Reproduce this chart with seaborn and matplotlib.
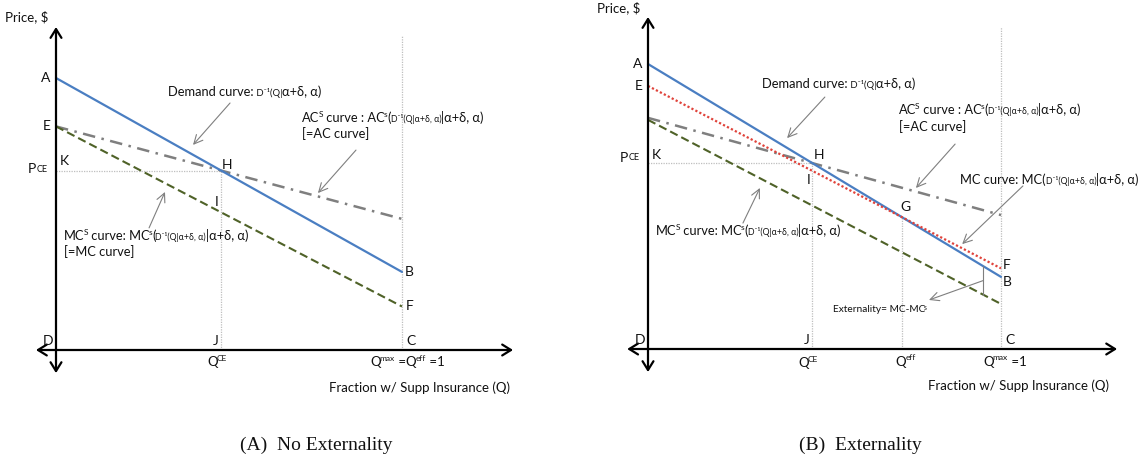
import matplotlib
matplotlib.use("Agg")
import matplotlib.pyplot as plt
import seaborn as sns

# Each schedule is linear in Q, so it is stored by its values at Q = 0 and Q = 1
q_grid = [0.0, 1.0]

# Panel A: no externality
demand_a = [100.0, 28.7]
ac_a = [82.2, 48.2]
mcs_a = [82.2, 16.0]

# Panel B: externality
demand_b = [100.0, 25.3]
mc_b = [92.3, 28.3]
ac_b = [81.1, 47.0]
mcs_b = [80.4, 15.8]
q_bracket = 0.95

panel_titles = ["(A)  No Externality", "(B)  Externality"]
x_title = "Fraction w/ Supp Insurance (Q)"
y_title = "Price, $"

BLUE = "#4A7EC2"
RED = "#E0433B"
GREY = "#7F7F7F"
OLIVE = "#4F6228"
GUIDE = "#BFBFBF"
INK = "#111111"
SANS = ["Lato", "DejaVu Sans"]
SERIF = ["Liberation Serif", "DejaVu Serif"]

sns.set_theme(style="white")
plt.rcParams["font.family"] = SANS


def value_at(y, q):
    return y[0] + (y[1] - y[0]) * q


def crossing(y1, y2):
    d0 = y1[0] - y2[0]
    d1 = y1[1] - y2[1]
    q = d0 / (d0 - d1)
    return q, value_at(y1, q)


def curve(ax, y, color, lw, ls):
    sns.lineplot(x=q_grid, y=y, ax=ax, color=color, linewidth=lw,
                 linestyle=ls, legend=False, zorder=3)


def rich(ax, xy, parts, offset=(0, 0), va="center", color=INK):
    """Write a run of text pieces (text, size, rise) one after another;
    raised pieces are tucked slightly closer to the text before them."""
    t = None
    prev = 0.0
    for s, size, rise in parts:
        if t is None:
            t = ax.annotate(s, xy=xy, xycoords="data",
                            xytext=(offset[0], offset[1] + rise),
                            textcoords="offset points", fontsize=size,
                            va=va, ha="left", family=SANS, color=color,
                            annotation_clip=False, zorder=6)
        else:
            dx = -0.8 if rise > 2 else 0.0
            t = ax.annotate(s, xy=(1, 0), xycoords=t,
                            xytext=(dx, rise - prev), textcoords="offset points",
                            fontsize=size, va="bottom", ha="left",
                            family=SANS, color=color,
                            annotation_clip=False, zorder=6)
        prev = rise
    return t


def label(ax, xy, s, offset, ha="left", va="center", size=10):
    ax.annotate(s, xy=xy, xytext=offset, textcoords="offset points",
                ha=ha, va=va, fontsize=size, color=INK, family=SANS,
                annotation_clip=False, zorder=6)


def pointer(ax, tail, head):
    ax.annotate("", xy=head, xytext=tail,
                arrowprops=dict(arrowstyle="->,head_length=0.45,head_width=0.22",
                                color=GREY, lw=0.8, shrinkA=0, shrinkB=0,
                                mutation_scale=14),
                annotation_clip=False, zorder=4)


def frame(ax, x_span, y_span):
    style = dict(arrowstyle="<->,head_length=0.45,head_width=0.28",
                 color="black", lw=1.6, shrinkA=0, shrinkB=0, mutation_scale=14)
    ax.annotate("", xy=(x_span[0], 0), xytext=(x_span[1], 0),
                arrowprops=style, annotation_clip=False, zorder=5)
    ax.annotate("", xy=(0, y_span[0]), xytext=(0, y_span[1]),
                arrowprops=style, annotation_clip=False, zorder=5)


def guide(ax, xs, ys):
    ax.plot(xs, ys, color=GUIDE, lw=0.9, linestyle=(0, (1, 1)), zorder=1)


SUB = 6.3
SUP = 6.0
BASE = 9.3
RISE = 4.4

fig = plt.figure(figsize=(11.43, 4.62), dpi=100)
ax_a = fig.add_axes([0, 0, 571 / 1143, 1])
ax_b = fig.add_axes([572 / 1143, 0, 571 / 1143, 1])
ax_a.set_xlim(-56 / 346, (571 - 56) / 346)
ax_a.set_ylim(-(462 - 350) / 2.72, 350 / 2.72)
ax_b.set_xlim(-(648 - 572) / 353, (1143 - 648) / 353)
ax_b.set_ylim(-(462 - 349) / 2.85, 349 / 2.85)
for ax in (ax_a, ax_b):
    ax.set_axis_off()

# ---------------- Panel A ----------------
ax = ax_a
q_ce, p_ce = crossing(demand_a, ac_a)
guide(ax, [1, 1], [0, 115.4])
guide(ax, [0, q_ce], [p_ce, p_ce])
guide(ax, [q_ce, q_ce], [0, p_ce])
curve(ax, ac_a, GREY, 1.8, (0, (5, 2.6, 1, 2.6)))
curve(ax, mcs_a, OLIVE, 1.5, (0, (4, 2)))
curve(ax, demand_a, BLUE, 1.6, "-")
frame(ax, (-0.058, 1.321), (-8.5, 118.75))

ax.text(-0.147, 122.4, y_title, fontsize=9.5, va="center", ha="left", color=INK)
label(ax, (0, demand_a[0]), "A", (-4, 0), ha="right")
label(ax, (0, ac_a[0]), "E", (-4, 0), ha="right")
label(ax, (0, p_ce), "K", (3, 7))
rich(ax, (0, p_ce), [("P", 10, 0), ("CE", 6.5, 0.8)], offset=(-20, 1))
label(ax, (q_ce, p_ce), "H", (0.5, 4))
label(ax, (q_ce, value_at(mcs_a, q_ce)), "I", (-2, 3), ha="right", va="bottom")
label(ax, (q_ce, 0), "J", (-2, 2), ha="right", va="bottom")
label(ax, (0, 0), "D", (-2, 2), ha="right", va="bottom")
label(ax, (1, 0), "C", (3, 2), va="bottom")
label(ax, (1, demand_a[1]), "B", (2, 0))
label(ax, (1, mcs_a[1]), "F", (3, 0))
rich(ax, (q_ce, 0), [("Q", 9.5, 0), ("CE", SUP, RISE)], offset=(-10, -9))
rich(ax, (1, 0), [("Q", 9.5, 0), ("max", SUP, RISE), (" =Q", 9.5, 0),
                  ("eff", SUP, RISE), (" =1", 9.5, 0)], offset=(-23, -9))
ax.text(0.789, -14.0, x_title, fontsize=9.5, va="center", ha="left", color=INK)

rich(ax, (0.324, 94.9), [("Demand curve:", BASE, 0), (" D⁻¹(Q|", 6.8, 0),
                         ("α+δ, α)", BASE, 0)])
pointer(ax, (0.503, 90.8), (0.396, 75.4))
rich(ax, (0.711, 85.3), [("AC", BASE, 0), ("S", SUP, RISE), (" curve : AC", BASE, 0),
                         ("s", SUP, RISE), ("(", BASE, 0), ("D⁻¹(Q|α+δ, α)", SUB, 0),
                         ("|α+δ, α)", BASE, 0)])
rich(ax, (0.711, 79.6), [("[=AC curve]", BASE, 0)])
pointer(ax, (0.867, 73.5), (0.757, 57.7))
rich(ax, (0.023, 41.9), [("MC", BASE, 0), ("S", SUP, RISE), (" curve: MC", BASE, 0),
                         ("s", SUP, RISE), ("(", BASE, 0), ("D⁻¹(Q|α+δ, α)", SUB, 0),
                         ("|α+δ, α)", BASE, 0)])
rich(ax, (0.023, 36.2), [("[=MC curve]", BASE, 0)])
pointer(ax, (0.269, 44.9), (0.315, 58.1))

ax.text(0.751, -34.9, panel_titles[0], fontsize=14, va="center", ha="center",
        family=SERIF, color=INK)

# ---------------- Panel B ----------------
ax = ax_b
q_ce, p_ce = crossing(demand_b, ac_b)
q_eff, p_eff = crossing(demand_b, mc_b)
guide(ax, [1, 1], [0, 113.0])
guide(ax, [0, q_ce], [p_ce, p_ce])
guide(ax, [q_ce, q_ce], [0, p_ce])
guide(ax, [q_eff, q_eff], [0, p_eff])
curve(ax, ac_b, GREY, 1.8, (0, (5, 2.6, 1, 2.6)))
curve(ax, mcs_b, OLIVE, 1.5, (0, (4, 2)))
curve(ax, demand_b, BLUE, 1.6, "-")
curve(ax, mc_b, RED, 1.6, (0, (1, 1)))
frame(ax, (-0.059, 1.329), (-8.1, 116.5))

# bracket marking the gap between the private and social cost schedules
ext_top = value_at(demand_b, q_bracket)
ext_bot = value_at(mcs_b, q_bracket)
ax.plot([q_bracket, q_bracket], [ext_top, ext_bot], color=GREY, lw=0.8, zorder=4)
pointer(ax, (q_bracket, (ext_top + ext_bot) / 2), (0.796, 17.2))
rich(ax, (0.524, 13.7), [("Externality= MC-MC", 7.3, 0), ("s", 4.8, 2.8)])

ax.text(-0.144, 119.6, y_title, fontsize=9.5, va="center", ha="left", color=INK)
label(ax, (0, demand_b[0]), "A", (-4, 0), ha="right")
label(ax, (0, mc_b[0]), "E", (-4, 0), ha="right")
label(ax, (0, p_ce), "K", (3, 6))
rich(ax, (0, p_ce), [("P", 10, 0), ("CE", 6.5, 0.8)], offset=(-20, 4))
label(ax, (q_ce, p_ce), "H", (1, 6))
label(ax, (q_ce, value_at(mc_b, q_ce)), "I", (-1.5, -2), ha="right", va="top")
label(ax, (q_eff, p_eff), "G", (-1.5, 3), va="bottom")
label(ax, (q_ce, 0), "J", (-2, 2), ha="right", va="bottom")
label(ax, (0, 0), "D", (-2, 2), ha="right", va="bottom")
label(ax, (1, 0), "C", (3, 2), va="bottom")
label(ax, (1, demand_b[1]), "B", (1.5, -4))
label(ax, (1, mc_b[1]), "F", (1.5, 2.5))
rich(ax, (q_ce, 0), [("Q", 9.5, 0), ("CE", SUP, RISE)], offset=(-10, -10))
rich(ax, (q_eff, 0), [("Q", 9.5, 0), ("eff", SUP, RISE)], offset=(-4.5, -9))
rich(ax, (1, 0), [("Q", 9.5, 0), ("max", SUP, RISE), (" =1", 9.5, 0)], offset=(-13, -9))
ax.text(0.793, -13.0, x_title, fontsize=9.5, va="center", ha="left", color=INK)

rich(ax, (0.323, 93.0), [("Demand curve:", BASE, 0), (" D⁻¹(Q|", 6.8, 0),
                         ("α+δ, α)", BASE, 0)])
pointer(ax, (0.501, 88.4), (0.394, 74.0))
rich(ax, (0.711, 83.9), [("AC", BASE, 0), ("S", SUP, RISE), (" curve : AC", BASE, 0),
                         ("s", SUP, RISE), ("(", BASE, 0), ("D⁻¹(Q|α+δ, α)", SUB, 0),
                         ("|α+δ, α)", BASE, 0)])
rich(ax, (0.711, 78.0), [("[=AC curve]", BASE, 0)])
pointer(ax, (0.870, 71.9), (0.759, 56.5))
rich(ax, (0.884, 59.3), [("MC curve: MC(", BASE, 0), ("D⁻¹(Q|α+δ, α)", SUB, 0),
                         ("|α+δ, α)", BASE, 0)])
pointer(ax, (1.062, 57.2), (0.890, 36.8))
rich(ax, (0.023, 41.4), [("MC", BASE, 0), ("S", SUP, RISE), (" curve: MC", BASE, 0),
                         ("s", SUP, RISE), ("(", BASE, 0), ("D⁻¹(Q|α+δ, α)", SUB, 0),
                         ("|α+δ, α)", BASE, 0)])
pointer(ax, (0.269, 44.2), (0.317, 56.5))

ax.text(0.601, -33.7, panel_titles[1], fontsize=14, va="center", ha="center",
        family=SERIF, color=INK)

fig.savefig("out.png", dpi=100, facecolor="white")
